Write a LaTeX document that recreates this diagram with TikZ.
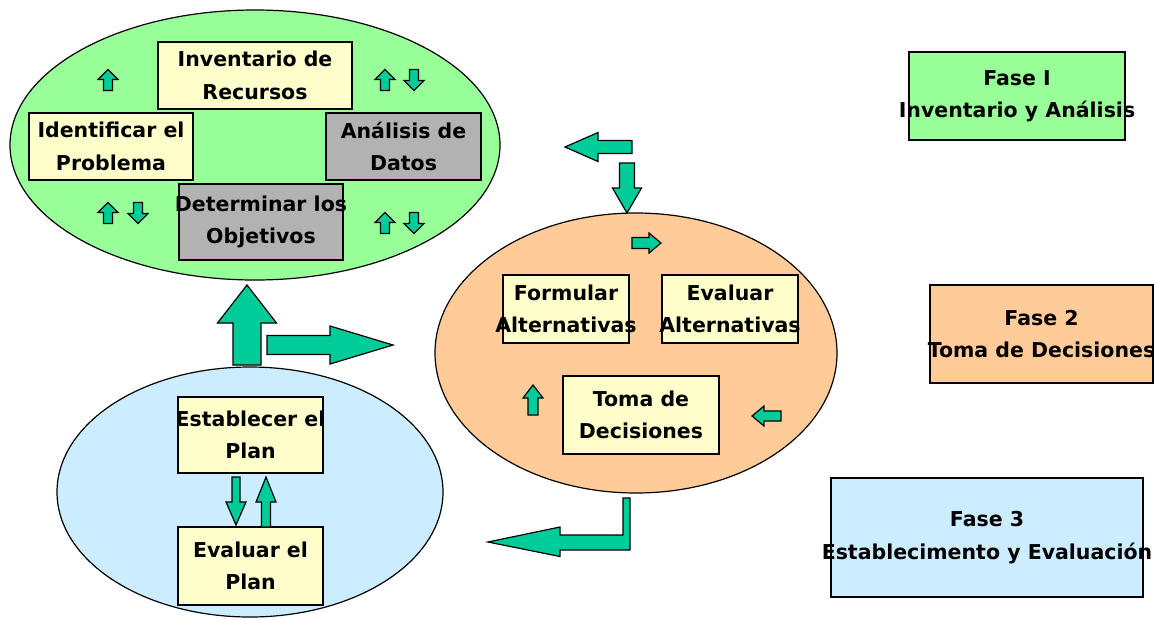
\documentclass[tikz,border=0pt]{standalone}
\usepackage{fontspec}
\setmainfont{DejaVu Sans}
\usetikzlibrary{shapes.geometric}
\definecolor{gfill}{RGB}{153,255,153}
\definecolor{ofill}{RGB}{255,204,153}
\definecolor{bfill}{RGB}{204,236,255}
\definecolor{yfill}{RGB}{255,255,204}
\definecolor{grfill}{RGB}{178,178,178}
\definecolor{afill}{RGB}{0,204,153}
\newcommand\zwtext[1]{\makebox[0pt]{#1}}
% tail, angle, length, shaft half width, head half width, head length
\newcommand\blockarrow[6]{%
  \filldraw[barrow, shift={#1}, rotate=#2] (0,-#4) -- ({#3-#6},-#4) -- ({#3-#6},-#5) -- (#3,0) -- ({#3-#6},#5) -- ({#3-#6},#4) -- (0,#4) -- cycle;}
\begin{document}
\begin{tikzpicture}[x=1pt,y=-1pt,
  phase/.style={ellipse, draw=black, line width=1.2pt, inner sep=0pt},
  box/.style={rectangle, draw=black, line width=1.2pt, fill=yfill, inner sep=0pt, align=center,
    font=\fontsize{20.5}{32.5}\selectfont\bfseries},
  graybox/.style={box, fill=grfill},
  barrow/.style={fill=afill, draw=black, line width=1.2pt, line join=miter}]
\useasboundingbox (0,0) rectangle (1154,619);

% ellipses
\node[phase, fill=gfill, minimum width=490pt, minimum height=270pt] (e1) at (255,145) {};
\node[phase, fill=ofill, minimum width=402pt, minimum height=280pt] (e2) at (636,353) {};
\node[phase, fill=bfill, minimum width=386pt, minimum height=250pt] (e3) at (250,492) {};

% Fase 1 boxes
\node[box, minimum width=194pt, minimum height=67pt] (inv) at (255,75.5) {\zwtext{Inventario de}\\\zwtext{Recursos}};
\node[box, minimum width=164pt, minimum height=67pt] (idp) at (111,146.5) {\zwtext{Identificar el}\\\zwtext{Problema}};
\node[graybox, minimum width=155pt, minimum height=67pt] (ana) at (403.5,146.5) {\zwtext{Análisis de}\\\zwtext{Datos}};
\node[graybox, minimum width=164pt, minimum height=76pt] (obj) at (261,222) {\zwtext{Determinar los}\\\zwtext{Objetivos}};

% Fase 2 boxes
\node[box, minimum width=126pt, minimum height=68pt] (for) at (566,309) {\zwtext{Formular}\\\zwtext{Alternativas}};
\node[box, minimum width=136pt, minimum height=68pt] (eva) at (730,309) {\zwtext{Evaluar}\\\zwtext{Alternativas}};
\node[box, minimum width=156pt, minimum height=78pt] (tom) at (641,415) {\zwtext{Toma de}\\\zwtext{Decisiones}};

% Fase 3 boxes
\node[box, minimum width=145pt, minimum height=76pt] (est) at (250.5,435) {\zwtext{Establecer el}\\\zwtext{Plan}};
\node[box, minimum width=145pt, minimum height=78pt] (evp) at (250.5,566) {\zwtext{Evaluar el}\\\zwtext{Plan}};

% legend
\node[box, fill=gfill, minimum width=216pt, minimum height=88pt] (f1) at (1017,96) {\zwtext{Fase I}\\\zwtext{Inventario y Análisis}};
\node[box, fill=ofill, minimum width=223pt, minimum height=98pt] (f2) at (1041.5,334) {\zwtext{Fase 2}\\\zwtext{Toma de Decisiones}};
\node[box, fill=bfill, minimum width=312pt, minimum height=119pt] (f3) at (987,537.5) {\zwtext{Fase 3}\\\zwtext{Establecimento y Evaluación}};

% small arrows in Fase 1
\blockarrow{(108,90.5)}{90}{21}{4.5}{10}{10}
\blockarrow{(385,90.5)}{90}{21}{4.5}{10}{10}
\blockarrow{(414,69.5)}{-90}{21}{4.5}{10}{10}
\blockarrow{(108,223.5)}{90}{21}{4.5}{10}{10}
\blockarrow{(138,202.5)}{-90}{21}{4.5}{10}{10}
\blockarrow{(385,233.5)}{90}{21}{4.5}{10}{10}
\blockarrow{(414,212.5)}{-90}{21}{4.5}{10}{10}

% small arrows in Fase 2
\blockarrow{(632,243)}{0}{29}{5.5}{10}{12}
\blockarrow{(533,415)}{90}{30}{5}{10}{13}
\blockarrow{(781,416)}{180}{29}{5}{10}{12}

% arrows in Fase 3
\blockarrow{(236,477)}{-90}{48}{4}{10}{23}
\blockarrow{(266,527)}{90}{50}{4.5}{10}{25}

% big arrows
\blockarrow{(247,365)}{90}{80}{14}{29.5}{38}
\blockarrow{(267,345)}{0}{126}{9.5}{19}{63}
\blockarrow{(632,147)}{180}{67}{6.5}{14.5}{33}
\blockarrow{(627,163)}{-90}{50}{7.5}{14.5}{25}

% bottom L arrow
\filldraw[barrow] (623,498) -- (630,498) -- (630,550) -- (560,550) -- (560,556.5) -- (488,542) -- (560,527) -- (560,535) -- (623,535) -- cycle;
\end{tikzpicture}
\end{document}
